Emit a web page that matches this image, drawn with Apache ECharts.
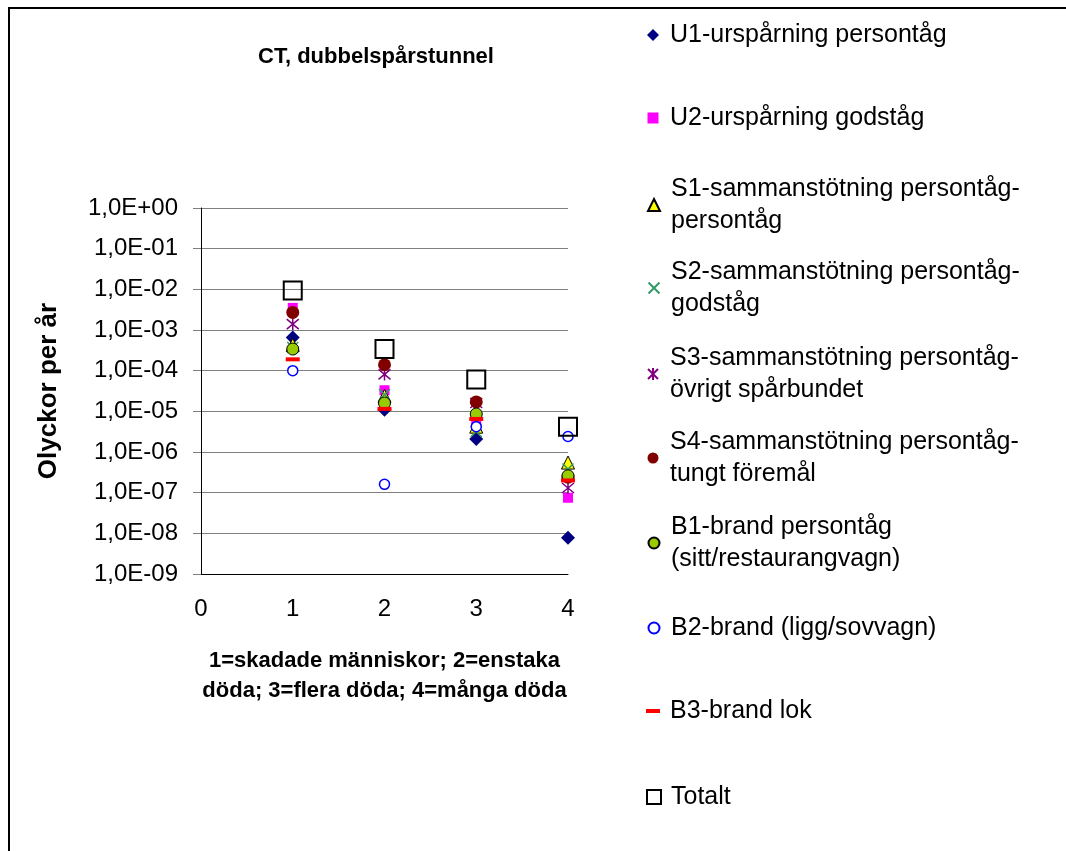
<!DOCTYPE html>
<html>
<head>
<meta charset="utf-8">
<script src="https://cdn.jsdelivr.net/npm/echarts@6/dist/echarts.min.js"></script>
<style>
html,body{margin:0;padding:0;background:#fff;}
#chart{width:1066px;height:851px;}
</style>
</head>
<body>
<div id="chart"></div>
<script>
// ---- data ----
const categories = [1, 2, 3, 4];
const seriesNames = [
  'U1-urspårning persontåg',
  'U2-urspårning godståg',
  'S1-sammanstötning persontåg-\npersontåg',
  'S2-sammanstötning persontåg-\ngodståg',
  'S3-sammanstötning persontåg-\növrigt spårbundet',
  'S4-sammanstötning persontåg-\ntungt föremål',
  'B1-brand persontåg\n(sitt/restaurangvagn)',
  'B2-brand (ligg/sovvagn)',
  'B3-brand lok',
  'Totalt'
];
const U1 = [6.5e-4, 1.1e-5, 2.1e-6, 7.8e-9];
const U2 = [3.5e-3, 3.3e-5, 5.8e-6, 7.5e-8];
const S1 = [4.3e-4, 2.4e-5, 4.2e-6, 5.5e-7];
const S2 = [3.7e-4, 2.6e-5, 3.2e-6, 3.8e-7];
const S3 = [1.4e-3, 8.1e-5, 1.6e-5, 1.3e-7];
const S4 = [2.7e-3, 1.4e-4, 1.7e-5, 2.4e-7];
const B1 = [3.4e-4, 1.6e-5, 8.6e-6, 2.6e-7];
const B2 = [1.0e-4, 1.6e-7, 4.2e-6, 2.4e-6];
const B3 = [1.9e-4, 1.15e-5, 6.5e-6, 2.0e-7];
const Totalt = [9.3e-3, 3.4e-4, 6.1e-5, 4.2e-6];
const titleText = 'CT, dubbelspårstunnel';
const yAxisName = 'Olyckor per år';
const xAxisName = '1=skadade människor; 2=enstaka\ndöda; 3=flera döda; 4=många döda';

// ---- styles ----
const FONT = '"Liberation Sans", Arial, sans-serif';
const styles = [
  {symbol: 'diamond', size: 14, legendSize: [12, 12], itemStyle: {color: '#000080'}},
  {symbol: 'rect', size: 10, legendSize: [11, 11], itemStyle: {color: '#FF00FF'}},
  {symbol: 'triangle', size: 13, legendSize: [12, 12], itemStyle: {color: '#FFFF00', borderColor: '#000', borderWidth: 1}},
  {symbol: 'path://M0,0L10,10M10,0L0,10', size: 11, legendSize: [11, 11], itemStyle: {color: '#339966', borderColor: '#339966', borderWidth: 1.5}},
  {symbol: 'path://M0,0L10,10M10,0L0,10M5,-1L5,11', size: 12, legendSize: [12, 12], itemStyle: {color: '#800080', borderColor: '#800080', borderWidth: 1.5}},
  {symbol: 'circle', size: 13, legendSize: [11, 11], itemStyle: {color: '#800000'}},
  {symbol: 'circle', size: 12, legendSize: [11, 11], itemStyle: {color: '#99CC00', borderColor: '#000', borderWidth: 1}},
  {symbol: 'circle', size: 10, legendSize: [11, 11], itemStyle: {color: '#FFFFFF', borderColor: '#0000FF', borderWidth: 1.5}},
  {symbol: 'path://M0,0H14V4H0Z', size: [14, 4], legendSize: [14, 4], itemStyle: {color: '#FF0000'}},
  {symbol: 'rect', size: 18, legendSize: [14, 14], itemStyle: {color: 'rgba(0,0,0,0)', borderColor: '#000', borderWidth: 2}}
];
const values = [U1, U2, S1, S2, S3, S4, B1, B2, B3, Totalt];
const legendCenters = [35, 118, 205, 288, 374, 458, 543, 628, 711, 797];
const LH = 32;

const series = seriesNames.map((name, i) => ({
  name: name,
  type: 'scatter',
  symbol: styles[i].symbol,
  symbolSize: styles[i].size,
  itemStyle: Object.assign({opacity: 1}, styles[i].itemStyle),
  emphasis: {disabled: true},
  z: 2,
  data: categories.map((c, j) => [c, values[i][j]])
}));

const legends = seriesNames.map((name, i) => {
  const twoLine = name.indexOf('\n') >= 0;
  const iw = styles[i].legendSize[0], ih = styles[i].legendSize[1];
  const extra = Math.max(0, 12 - iw / 2);
  return {
    data: [name],
    selectedMode: false,
    orient: 'vertical',
    left: 653 - iw / 2,
    top: twoLine ? legendCenters[i] - 1.5 * LH : legendCenters[i] - LH / 2,
    padding: 0,
    itemWidth: iw,
    itemHeight: ih,
    itemStyle: {opacity: 1},
    textStyle: {
      fontFamily: FONT, fontSize: 25, color: '#000', lineHeight: LH,
      padding: [twoLine ? LH : 0, 0, 0, extra]
    }
  };
});

function fmtExp(v) {
  const e = Math.round(Math.log10(v));
  return '1,0E' + (e < 0 ? '-' : '+') + String(Math.abs(e)).padStart(2, '0');
}

const chart = echarts.init(document.getElementById('chart'), null, {renderer: 'canvas'});
chart.setOption({
  animation: false,
  backgroundColor: '#fff',
  title: {
    text: titleText,
    left: 376, top: 46, textAlign: 'center', padding: 0,
    textStyle: {fontFamily: FONT, fontSize: 22, fontWeight: 'bold', color: '#000'}
  },
  legend: legends,
  grid: {left: 201, top: 208, width: 367, height: 366, containLabel: false},
  xAxis: {
    type: 'value', min: 0, max: 4, interval: 1,
    name: xAxisName, nameLocation: 'middle', nameGap: 72,
    nameTextStyle: {fontFamily: FONT, fontSize: 22, fontWeight: 'bold', color: '#000', lineHeight: 30},
    axisLine: {show: true, onZero: false, lineStyle: {color: '#000', width: 1}},
    axisTick: {show: false},
    splitLine: {show: false},
    axisLabel: {fontFamily: FONT, fontSize: 24, color: '#000', margin: 23}
  },
  yAxis: {
    type: 'log', logBase: 10, min: 1e-9, max: 1, interval: 1,
    name: yAxisName, nameLocation: 'middle', nameGap: 139, nameRotate: 90,
    nameTextStyle: {fontFamily: FONT, fontSize: 26, fontWeight: 'bold', color: '#000'},
    axisLine: {show: true, onZero: false, lineStyle: {color: '#000', width: 1}},
    axisTick: {show: true, length: 8, lineStyle: {color: '#808080'}},
    splitLine: {show: true, lineStyle: {color: '#808080', width: 1}},
    axisLabel: {fontFamily: FONT, fontSize: 24, color: '#000', margin: 23, formatter: fmtExp}
  },
  graphic: [{
    type: 'rect', silent: true, z: 100,
    shape: {x: 9, y: 8, width: 1200, height: 1000},
    style: {fill: 'none', stroke: '#000', lineWidth: 2}
  }],
  series: series
});
</script>
</body>
</html>
